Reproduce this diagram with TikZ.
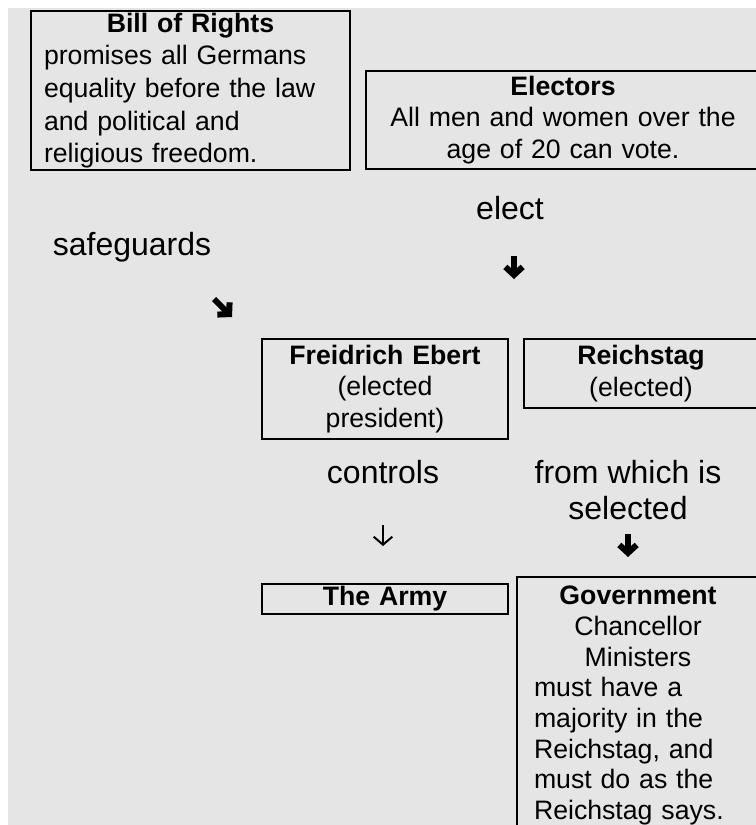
\documentclass[tikz,border=0pt]{standalone}
\usepackage{fontspec}
\setmainfont{Liberation Sans}
\usetikzlibrary{arrows.meta}
\definecolor{bggray}{RGB}{229,229,229}

\begin{document}
\begin{tikzpicture}[x=0.75pt,y=-0.75pt,
  box/.style={draw,line width=1.5pt,anchor=north west,inner ysep=1pt,
    font=\fontsize{20}{23.7}\selectfont},
  lbl/.style={font=\fontsize{24}{27}\selectfont,align=center},
  boldarr/.style={line width=4.5pt,-{Straight Barb[length=6pt,width=13pt]}},
  thinarr/.style={line width=1.5pt,-{Straight Barb[length=6pt,width=14pt]}}]
\useasboundingbox (0,0) rectangle (756,825);
\clip (0,0) rectangle (756,825);
\fill[bggray] (8,8) rectangle (756,825);
\node[box,inner xsep=9.75pt,text width=219.75pt,minimum height=119.25pt,align=left,
  font=\fontsize{20}{24.5}\selectfont] (bill) at (30,10)
  {\makebox[\linewidth]{\bfseries Bill of Rights}\\promises all Germans\\equality before the law\\and political and\\religious freedom.};
\node[box,text width=280pt,minimum width=295.5pt,minimum height=73.5pt,align=center] (electors) at (365,70)
  {\bfseries Electors\\\mdseries All men and women over the\\age of 20 can vote.};
\node[box,text width=170pt,minimum width=184.5pt,minimum height=75pt,align=center] (ebert) at (261,338)
  {\bfseries Freidrich Ebert\\\mdseries (elected\\president)};
\node[box,text width=160pt,minimum width=175.5pt,minimum height=51.75pt,align=center] (reichstag) at (523,338)
  {\bfseries Reichstag\\\mdseries (elected)};
\node[box,text width=170pt,minimum width=184.5pt,minimum height=22.5pt,align=center] (army) at (261,583)
  {\bfseries The Army};
\node[box,inner xsep=12.75pt,inner ysep=7pt,text width=156pt,align=left,
  font=\fontsize{20}{23}\selectfont] (government) at (516,576)
  {\makebox[\linewidth]{\bfseries Government}\\\makebox[\linewidth]{Chancellor}\\\makebox[\linewidth]{Ministers}\\must have a\\majority in the\\Reichstag, and\\must do as the\\Reichstag says.};
\node[lbl] (elect) at (510,208) {elect};
\node[lbl] (safeguards) at (132,247) {safeguards};
\node[lbl] (controls) at (383,472) {controls};
\node[lbl] (selected) at (628,490) {from which is\\selected};
\coordinate (elect_s) at (514,256);
\coordinate (elect_e) at (514,279);
\coordinate (safe_s) at (214,299);
\coordinate (safe_e) at (232,317);
\coordinate (ctrl_s) at (383,525);
\coordinate (ctrl_e) at (383,546);
\coordinate (sel_s) at (628,534);
\coordinate (sel_e) at (628,557);
\path[boldarr] (elect_s) edge (elect_e);
\path[boldarr] (safe_s) edge (safe_e);
\path[thinarr] (ctrl_s) edge (ctrl_e);
\path[boldarr] (sel_s) edge (sel_e);
\end{tikzpicture}
\end{document}
